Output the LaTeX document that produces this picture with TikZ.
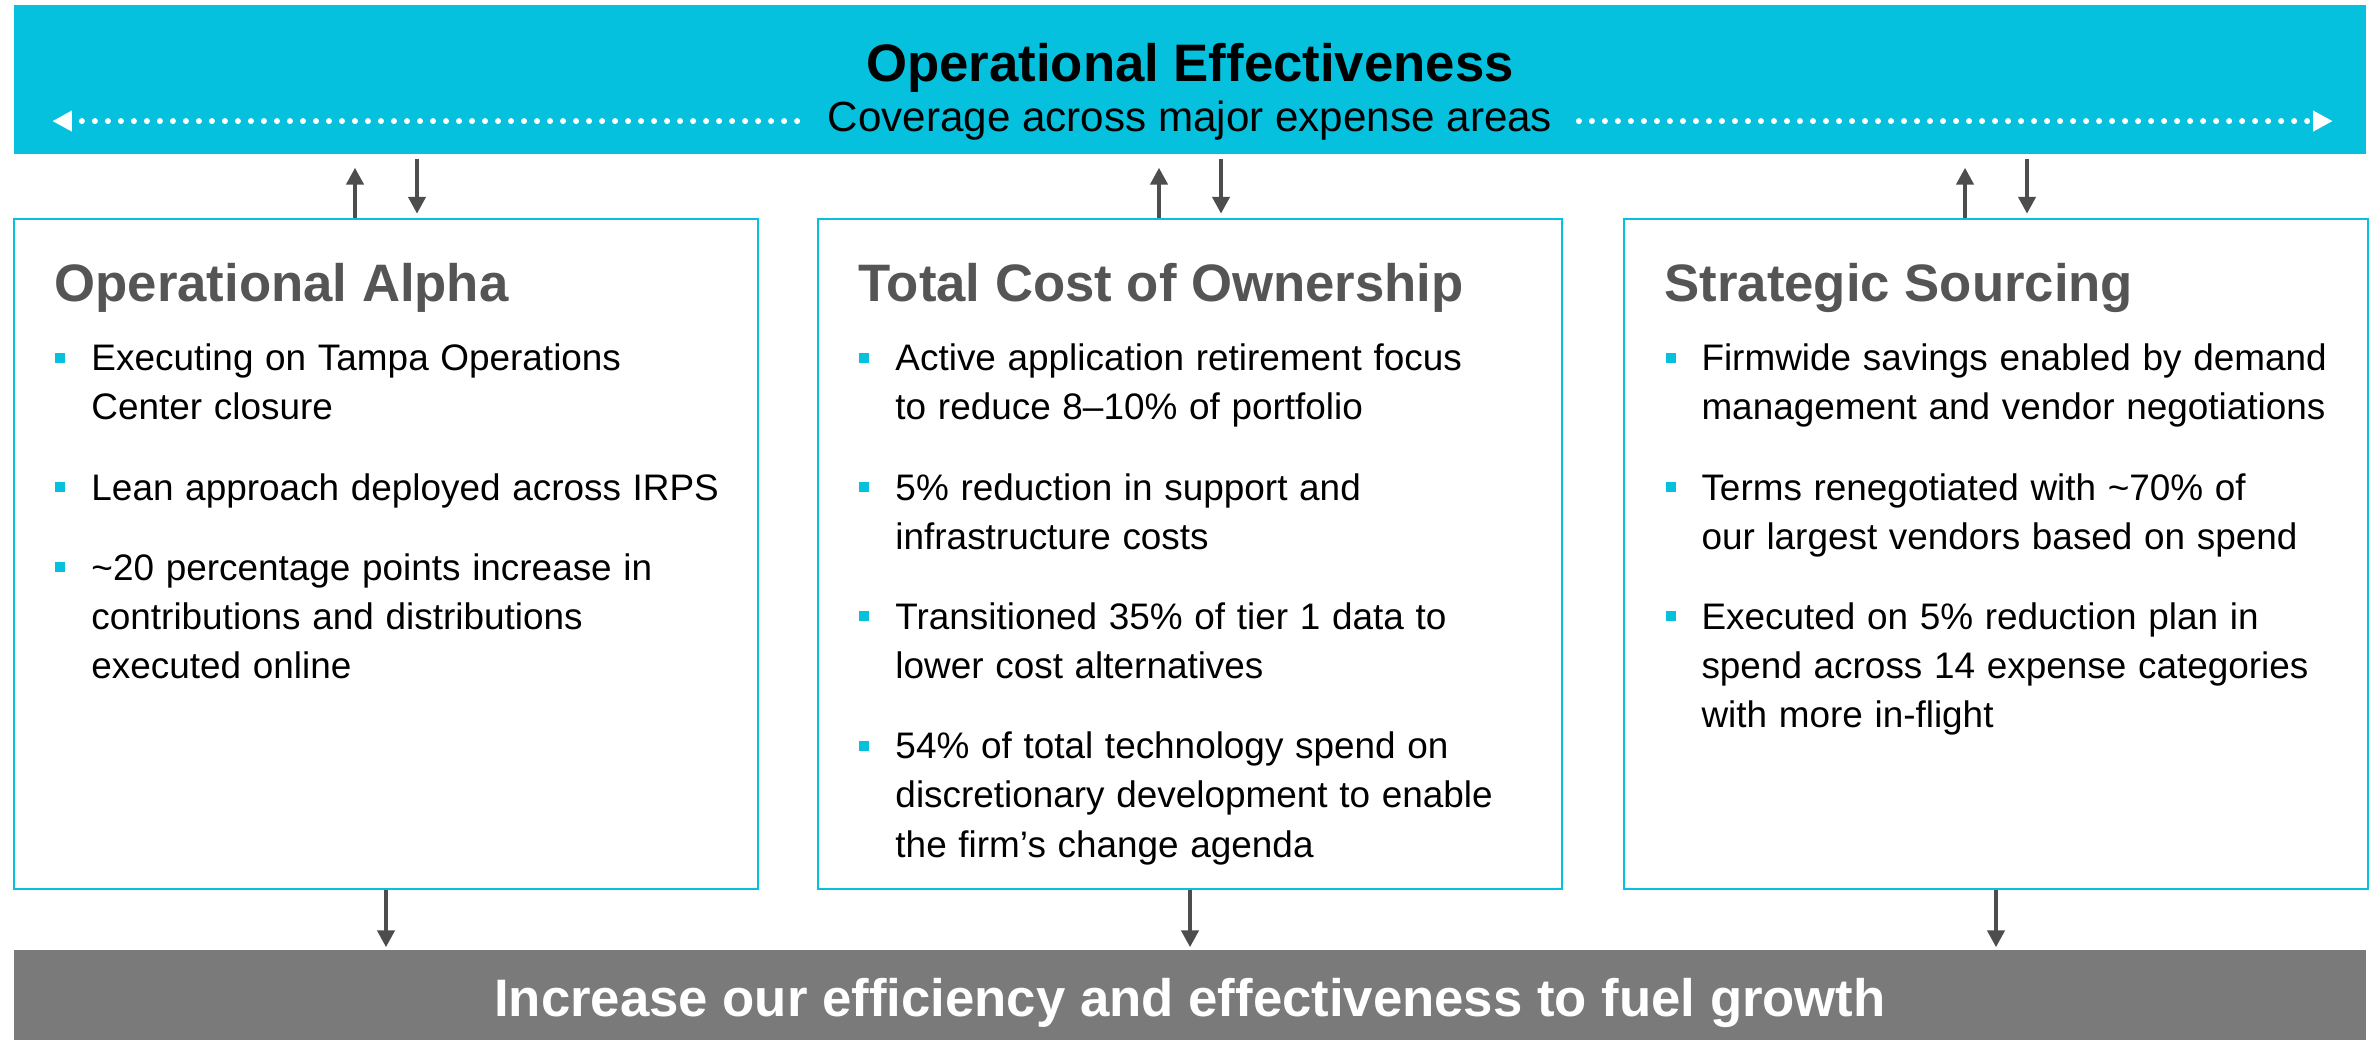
\documentclass[tikz,border=0pt]{standalone}
\usepackage{fontspec}
\setmainfont{Liberation Sans}
\definecolor{effcyan}{RGB}{6,193,222}
\definecolor{headgray}{RGB}{85,85,85}
\definecolor{arrgray}{RGB}{77,77,77}
\definecolor{bargray}{RGB}{122,122,122}
\usetikzlibrary{calc, positioning, arrows.meta}
\newcommand{\sqbul}{\leavevmode\llap{\textcolor{effcyan}{\rule[0.08cm]{0.1cm}{0.1cm}}\hspace{0.26cm}}}

\begin{document}
\begin{tikzpicture}[
  banner/.style={fill=effcyan, minimum width=23.52cm, minimum height=1.49cm,
    inner sep=0},
  pillar/.style={draw=effcyan, line width=0.7pt, minimum width=7.44cm,
    minimum height=6.70cm, inner sep=0},
  head/.style={anchor=base west, inner sep=0,
    font=\fontsize{15}{18}\selectfont\bfseries, text=headgray},
  items/.style={anchor=base west, inner sep=0, text width=6.6cm, align=left,
    execute at begin node={\fontsize{10.5}{14}\selectfont\setlength{\parskip}{8.8pt}}},
  arw/.style={-{Triangle[length=4.8pt,width=4.8pt]}, line width=1.3pt, arrgray},
  dotline/.style={-{Triangle[length=5.6pt,width=5.6pt]}, white, line width=1.7pt,
    line cap=round, dash pattern=on 0pt off 3.7pt},
]
\useasboundingbox (0,0) rectangle (23.74,10.40);

% ---- banner (top) ----
\node[banner] (banner) at (11.90, 9.605) {};
\node[anchor=base, inner sep=0, font=\fontsize{15}{18}\selectfont\bfseries]
  (title) at (11.90, 9.58) {Operational Effectiveness};
\node[anchor=base, inner sep=0, font=\fontsize{12}{14}\selectfont]
  (cov) at (11.90, 9.08) {Coverage across major expense areas};
\draw[dotline, shorten <=0.30cm, shorten >=0.39cm] (cov.west) -- (cov.west -| banner.west);
\draw[dotline, shorten <=0.26cm, shorten >=0.34cm] (cov.east) -- (cov.east -| banner.east);

% ---- three pillars ----
\node[pillar] (oa)  at (3.86, 4.86) {};
\node[pillar] (tco) at (11.90, 4.86) {};
\node[pillar] (ss)  at (19.96, 4.86) {};

\node[head] (oa-h)  at ($(oa.north west)+(0.41,-0.84)$)  {Operational Alpha};
\node[head] (tco-h) at ($(tco.north west)+(0.41,-0.84)$) {Total Cost of Ownership};
\node[head] (ss-h)  at ($(ss.north west)+(0.41,-0.84)$)  {Strategic Sourcing};

\node[items] (oa-list) at ($(oa.north west)+(0.78,-1.53)$) {%
  \sqbul Executing on Tampa Operations\\Center closure\par
  \sqbul Lean approach deployed across IRPS\par
  \sqbul \textasciitilde20 percentage points increase in\\contributions and distributions\\executed online};
\node[items] (tco-list) at ($(tco.north west)+(0.78,-1.53)$) {%
  \sqbul Active application retirement focus\\to reduce 8–10\% of portfolio\par
  \sqbul 5\% reduction in support and\\infrastructure costs\par
  \sqbul Transitioned 35\% of tier 1 data to\\lower cost alternatives\par
  \sqbul 54\% of total technology spend on\\discretionary development to enable\\the firm’s change agenda};
\node[items] (ss-list) at ($(ss.north west)+(0.78,-1.53)$) {%
  \sqbul Firmwide savings enabled by demand\\management and vendor negotiations\par
  \sqbul Terms renegotiated with \textasciitilde70\% of\\our largest vendors based on spend\par
  \sqbul Executed on 5\% reduction plan in\\spend across 14 expense categories\\with more in-flight};

% ---- goal bar (bottom) ----
\node[fill=bargray, minimum width=23.52cm, minimum height=0.90cm, inner sep=0]
  (goal) at (11.90, 0.45) {};
\node[anchor=base, inner sep=0, text=white, font=\fontsize{15}{18}\selectfont\bfseries]
  (goal-txt) at (11.90, 0.23) {Increase our efficiency and effectiveness to fuel growth};

% ---- arrows ----
\foreach \b in {oa, tco, ss} {
  \coordinate (\b-up) at ([xshift=-0.31cm]\b.north);
  \coordinate (\b-dn) at ([xshift=0.31cm]\b.north);
  \draw[arw, shorten >=0.13cm] (\b-up) -- (\b-up |- banner.south);
  \draw[arw, shorten <=0.04cm, shorten >=0.04cm] (\b-dn |- banner.south) -- (\b-dn);
  \draw[arw, shorten >=0.02cm] (\b.south) -- (\b.south |- goal.north);
}

\end{tikzpicture}
\end{document}
